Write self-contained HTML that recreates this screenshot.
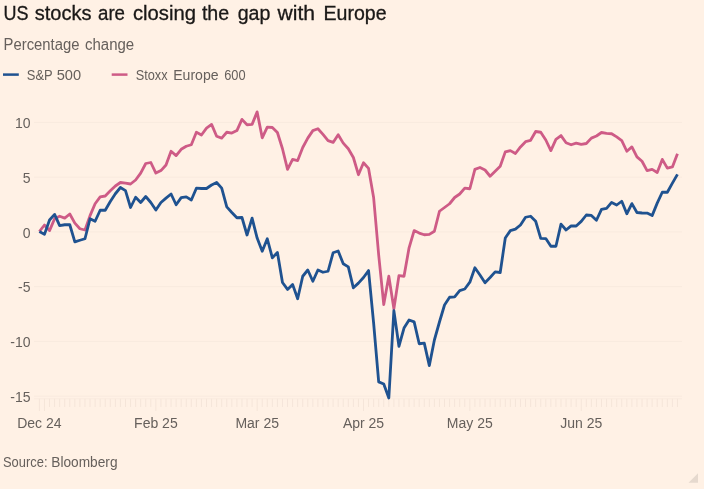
<!DOCTYPE html>
<html lang="en"><head><meta charset="utf-8"><title>US stocks are closing the gap with Europe</title>
<style>
html,body{margin:0;padding:0;background:#FFF1E5;}
body{width:704px;height:489px;overflow:hidden;position:relative;font-family:"Liberation Sans",Arial,sans-serif;}
svg{position:absolute;left:0;top:0;display:block}
svg text{font-family:"Liberation Sans",Arial,sans-serif;}
</style></head><body>
<svg width="704" height="489" viewBox="0 0 704 489">
<rect width="704" height="489" fill="#FFF1E5"/>
<text x="3.4" y="19.9" font-size="19.3" fill="#1a1817" stroke="#1a1817" stroke-width="0.3" textLength="25.0" lengthAdjust="spacingAndGlyphs">US</text> <text x="34.7" y="19.9" font-size="19.3" fill="#1a1817" stroke="#1a1817" stroke-width="0.3" textLength="56.8" lengthAdjust="spacingAndGlyphs">stocks</text> <text x="98" y="19.9" font-size="19.3" fill="#1a1817" stroke="#1a1817" stroke-width="0.3" textLength="27.0" lengthAdjust="spacingAndGlyphs">are</text> <text x="133" y="19.9" font-size="19.3" fill="#1a1817" stroke="#1a1817" stroke-width="0.3" textLength="63.0" lengthAdjust="spacingAndGlyphs">closing</text> <text x="201.9" y="19.9" font-size="19.3" fill="#1a1817" stroke="#1a1817" stroke-width="0.3" textLength="27.3" lengthAdjust="spacingAndGlyphs">the</text> <text x="237.7" y="19.9" font-size="19.3" fill="#1a1817" stroke="#1a1817" stroke-width="0.3" textLength="32.7" lengthAdjust="spacingAndGlyphs">gap</text> <text x="277.5" y="19.9" font-size="19.3" fill="#1a1817" stroke="#1a1817" stroke-width="0.3" textLength="37.5" lengthAdjust="spacingAndGlyphs">with</text> <text x="323.5" y="19.9" font-size="19.3" fill="#1a1817" stroke="#1a1817" stroke-width="0.3" textLength="63.1" lengthAdjust="spacingAndGlyphs">Europe</text>
<text x="3.6" y="49.5" font-size="15.6" fill="#66605C"  textLength="75.9" lengthAdjust="spacingAndGlyphs">Percentage</text> <text x="85" y="49.5" font-size="15.6" fill="#66605C"  textLength="49.2" lengthAdjust="spacingAndGlyphs">change</text>
<line x1="3" y1="74.6" x2="18.8" y2="74.6" stroke="#1F5290" stroke-width="2.5"/>
<text x="26.8" y="79.7" font-size="14" fill="#66605C"  textLength="25.9" lengthAdjust="spacingAndGlyphs">S&amp;P</text> <text x="56.7" y="79.7" font-size="14" fill="#66605C"  textLength="24.4" lengthAdjust="spacingAndGlyphs">500</text>
<line x1="111.7" y1="74.6" x2="127.5" y2="74.6" stroke="#CE5B86" stroke-width="2.5"/>
<text x="135.7" y="79.7" font-size="14" fill="#66605C"  textLength="31.9" lengthAdjust="spacingAndGlyphs">Stoxx</text> <text x="173.2" y="79.7" font-size="14" fill="#66605C"  textLength="45.4" lengthAdjust="spacingAndGlyphs">Europe</text> <text x="224.2" y="79.7" font-size="14" fill="#66605C"  textLength="21.4" lengthAdjust="spacingAndGlyphs">600</text>
<g stroke="#F9EADE" stroke-width="1" shape-rendering="auto"><line x1="34" y1="122.4" x2="682" y2="122.4"/><line x1="34" y1="177.15" x2="682" y2="177.15"/><line x1="34" y1="231.9" x2="682" y2="231.9"/><line x1="34" y1="286.65" x2="682" y2="286.65"/><line x1="34" y1="341.4" x2="682" y2="341.4"/><line x1="34" y1="396.15" x2="682" y2="396.15"/><line x1="34" y1="398.8" x2="682" y2="398.8"/></g>
<g stroke="#F5E5D9" stroke-width="1"><line x1="39.40" y1="398.8" x2="39.40" y2="411"/><line x1="44.46" y1="398.8" x2="44.46" y2="411"/><line x1="49.53" y1="398.8" x2="49.53" y2="407"/><line x1="54.59" y1="398.8" x2="54.59" y2="407"/><line x1="59.66" y1="398.8" x2="59.66" y2="407"/><line x1="64.72" y1="398.8" x2="64.72" y2="407"/><line x1="69.78" y1="398.8" x2="69.78" y2="407"/><line x1="74.85" y1="398.8" x2="74.85" y2="407"/><line x1="79.91" y1="398.8" x2="79.91" y2="407"/><line x1="84.98" y1="398.8" x2="84.98" y2="407"/><line x1="90.04" y1="398.8" x2="90.04" y2="407"/><line x1="95.10" y1="398.8" x2="95.10" y2="407"/><line x1="100.17" y1="398.8" x2="100.17" y2="407"/><line x1="105.23" y1="398.8" x2="105.23" y2="407"/><line x1="110.30" y1="398.8" x2="110.30" y2="407"/><line x1="115.36" y1="398.8" x2="115.36" y2="407"/><line x1="120.42" y1="398.8" x2="120.42" y2="407"/><line x1="125.49" y1="398.8" x2="125.49" y2="407"/><line x1="130.55" y1="398.8" x2="130.55" y2="407"/><line x1="135.62" y1="398.8" x2="135.62" y2="407"/><line x1="140.68" y1="398.8" x2="140.68" y2="407"/><line x1="145.74" y1="398.8" x2="145.74" y2="407"/><line x1="150.81" y1="398.8" x2="150.81" y2="407"/><line x1="155.87" y1="398.8" x2="155.87" y2="411"/><line x1="160.94" y1="398.8" x2="160.94" y2="407"/><line x1="166.00" y1="398.8" x2="166.00" y2="407"/><line x1="171.06" y1="398.8" x2="171.06" y2="407"/><line x1="176.13" y1="398.8" x2="176.13" y2="407"/><line x1="181.19" y1="398.8" x2="181.19" y2="407"/><line x1="186.26" y1="398.8" x2="186.26" y2="407"/><line x1="191.32" y1="398.8" x2="191.32" y2="407"/><line x1="196.38" y1="398.8" x2="196.38" y2="407"/><line x1="201.45" y1="398.8" x2="201.45" y2="407"/><line x1="206.51" y1="398.8" x2="206.51" y2="407"/><line x1="211.58" y1="398.8" x2="211.58" y2="407"/><line x1="216.64" y1="398.8" x2="216.64" y2="407"/><line x1="221.70" y1="398.8" x2="221.70" y2="407"/><line x1="226.77" y1="398.8" x2="226.77" y2="407"/><line x1="231.83" y1="398.8" x2="231.83" y2="407"/><line x1="236.90" y1="398.8" x2="236.90" y2="407"/><line x1="241.96" y1="398.8" x2="241.96" y2="407"/><line x1="247.02" y1="398.8" x2="247.02" y2="407"/><line x1="252.09" y1="398.8" x2="252.09" y2="407"/><line x1="257.15" y1="398.8" x2="257.15" y2="411"/><line x1="262.22" y1="398.8" x2="262.22" y2="407"/><line x1="267.28" y1="398.8" x2="267.28" y2="407"/><line x1="272.34" y1="398.8" x2="272.34" y2="407"/><line x1="277.41" y1="398.8" x2="277.41" y2="407"/><line x1="282.47" y1="398.8" x2="282.47" y2="407"/><line x1="287.54" y1="398.8" x2="287.54" y2="407"/><line x1="292.60" y1="398.8" x2="292.60" y2="407"/><line x1="297.66" y1="398.8" x2="297.66" y2="407"/><line x1="302.73" y1="398.8" x2="302.73" y2="407"/><line x1="307.79" y1="398.8" x2="307.79" y2="407"/><line x1="312.86" y1="398.8" x2="312.86" y2="407"/><line x1="317.92" y1="398.8" x2="317.92" y2="407"/><line x1="322.98" y1="398.8" x2="322.98" y2="407"/><line x1="328.05" y1="398.8" x2="328.05" y2="407"/><line x1="333.11" y1="398.8" x2="333.11" y2="407"/><line x1="338.18" y1="398.8" x2="338.18" y2="407"/><line x1="343.24" y1="398.8" x2="343.24" y2="407"/><line x1="348.30" y1="398.8" x2="348.30" y2="407"/><line x1="353.37" y1="398.8" x2="353.37" y2="407"/><line x1="358.43" y1="398.8" x2="358.43" y2="407"/><line x1="363.50" y1="398.8" x2="363.50" y2="411"/><line x1="368.56" y1="398.8" x2="368.56" y2="407"/><line x1="373.62" y1="398.8" x2="373.62" y2="407"/><line x1="378.69" y1="398.8" x2="378.69" y2="407"/><line x1="383.75" y1="398.8" x2="383.75" y2="407"/><line x1="388.82" y1="398.8" x2="388.82" y2="407"/><line x1="393.88" y1="398.8" x2="393.88" y2="407"/><line x1="398.94" y1="398.8" x2="398.94" y2="407"/><line x1="404.01" y1="398.8" x2="404.01" y2="407"/><line x1="409.07" y1="398.8" x2="409.07" y2="407"/><line x1="414.14" y1="398.8" x2="414.14" y2="407"/><line x1="419.20" y1="398.8" x2="419.20" y2="407"/><line x1="424.26" y1="398.8" x2="424.26" y2="407"/><line x1="429.33" y1="398.8" x2="429.33" y2="407"/><line x1="434.39" y1="398.8" x2="434.39" y2="407"/><line x1="439.46" y1="398.8" x2="439.46" y2="407"/><line x1="444.52" y1="398.8" x2="444.52" y2="407"/><line x1="449.58" y1="398.8" x2="449.58" y2="407"/><line x1="454.65" y1="398.8" x2="454.65" y2="407"/><line x1="459.71" y1="398.8" x2="459.71" y2="407"/><line x1="464.78" y1="398.8" x2="464.78" y2="407"/><line x1="469.84" y1="398.8" x2="469.84" y2="411"/><line x1="474.90" y1="398.8" x2="474.90" y2="407"/><line x1="479.97" y1="398.8" x2="479.97" y2="407"/><line x1="485.03" y1="398.8" x2="485.03" y2="407"/><line x1="490.10" y1="398.8" x2="490.10" y2="407"/><line x1="495.16" y1="398.8" x2="495.16" y2="407"/><line x1="500.22" y1="398.8" x2="500.22" y2="407"/><line x1="505.29" y1="398.8" x2="505.29" y2="407"/><line x1="510.35" y1="398.8" x2="510.35" y2="407"/><line x1="515.42" y1="398.8" x2="515.42" y2="407"/><line x1="520.48" y1="398.8" x2="520.48" y2="407"/><line x1="525.54" y1="398.8" x2="525.54" y2="407"/><line x1="530.61" y1="398.8" x2="530.61" y2="407"/><line x1="535.67" y1="398.8" x2="535.67" y2="407"/><line x1="540.74" y1="398.8" x2="540.74" y2="407"/><line x1="545.80" y1="398.8" x2="545.80" y2="407"/><line x1="550.86" y1="398.8" x2="550.86" y2="407"/><line x1="555.93" y1="398.8" x2="555.93" y2="407"/><line x1="560.99" y1="398.8" x2="560.99" y2="407"/><line x1="566.06" y1="398.8" x2="566.06" y2="407"/><line x1="571.12" y1="398.8" x2="571.12" y2="407"/><line x1="576.18" y1="398.8" x2="576.18" y2="407"/><line x1="581.25" y1="398.8" x2="581.25" y2="411"/><line x1="586.31" y1="398.8" x2="586.31" y2="407"/><line x1="591.38" y1="398.8" x2="591.38" y2="407"/><line x1="596.44" y1="398.8" x2="596.44" y2="407"/><line x1="601.50" y1="398.8" x2="601.50" y2="407"/><line x1="606.57" y1="398.8" x2="606.57" y2="407"/><line x1="611.63" y1="398.8" x2="611.63" y2="407"/><line x1="616.70" y1="398.8" x2="616.70" y2="407"/><line x1="621.76" y1="398.8" x2="621.76" y2="407"/><line x1="626.82" y1="398.8" x2="626.82" y2="407"/><line x1="631.89" y1="398.8" x2="631.89" y2="407"/><line x1="636.95" y1="398.8" x2="636.95" y2="407"/><line x1="642.02" y1="398.8" x2="642.02" y2="407"/><line x1="647.08" y1="398.8" x2="647.08" y2="407"/><line x1="652.14" y1="398.8" x2="652.14" y2="407"/><line x1="657.21" y1="398.8" x2="657.21" y2="407"/><line x1="662.27" y1="398.8" x2="662.27" y2="407"/><line x1="667.34" y1="398.8" x2="667.34" y2="407"/><line x1="672.40" y1="398.8" x2="672.40" y2="407"/><line x1="677.46" y1="398.8" x2="677.46" y2="407"/></g>
<g font-size="14" fill="#66605C"><text x="30.5" y="128.0" text-anchor="end">10</text><text x="30.5" y="182.8" text-anchor="end">5</text><text x="30.5" y="237.5" text-anchor="end">0</text><text x="30.5" y="292.2" text-anchor="end">-5</text><text x="30.5" y="347.0" text-anchor="end">-10</text><text x="30.5" y="401.8" text-anchor="end">-15</text><text x="39.4" y="428.3" text-anchor="middle">Dec 24</text><text x="155.9" y="428.3" text-anchor="middle">Feb 25</text><text x="257.2" y="428.3" text-anchor="middle">Mar 25</text><text x="363.5" y="428.3" text-anchor="middle">Apr 25</text><text x="469.8" y="428.3" text-anchor="middle">May 25</text><text x="581.2" y="428.3" text-anchor="middle">Jun 25</text></g>
<path d="M39.40,231.50 L44.46,225.00 L49.53,230.60 L54.59,218.75 L59.66,216.25 L64.72,218.10 L69.78,214.00 L74.85,223.10 L79.91,228.75 L84.98,230.00 L90.04,215.60 L95.10,203.75 L100.17,196.90 L105.23,196.00 L110.30,190.80 L115.36,186.00 L120.42,182.50 L125.49,183.10 L130.55,184.00 L135.62,180.00 L140.68,173.10 L145.74,163.50 L150.81,162.50 L155.87,173.10 L160.94,170.60 L166.00,165.00 L171.06,151.25 L176.13,155.60 L181.19,149.30 L186.26,146.25 L191.32,144.75 L196.38,132.25 L201.45,135.00 L206.51,128.10 L211.58,124.40 L216.64,136.25 L221.70,138.10 L226.77,132.25 L231.83,133.10 L236.90,130.60 L241.96,119.40 L247.02,124.75 L252.09,124.40 L257.15,111.90 L262.22,137.80 L267.28,127.10 L272.34,127.50 L277.41,132.50 L282.47,148.75 L287.54,169.30 L292.60,159.40 L297.66,160.60 L302.73,147.50 L307.79,138.10 L312.86,130.60 L317.92,128.75 L322.98,134.40 L328.05,140.60 L333.11,142.40 L338.18,134.70 L343.24,143.10 L348.30,148.75 L353.37,157.50 L358.43,174.70 L363.50,162.80 L368.56,168.40 L373.62,197.50 L378.69,255.00 L383.75,304.50 L388.82,276.25 L393.88,308.75 L398.94,275.60 L404.01,276.25 L409.07,247.80 L414.14,230.60 L419.20,233.10 L424.26,234.75 L429.33,234.40 L434.39,231.25 L439.46,211.25 L444.52,207.50 L449.58,203.75 L454.65,197.50 L459.71,194.00 L464.78,188.10 L469.84,188.75 L474.90,169.40 L479.97,167.50 L485.03,170.00 L490.10,176.25 L495.16,171.25 L500.22,166.25 L505.29,151.90 L510.35,150.60 L515.42,153.50 L520.48,146.90 L525.54,141.70 L530.61,140.30 L535.67,131.50 L540.74,132.25 L545.80,140.00 L550.86,150.60 L555.93,139.40 L560.99,135.60 L566.06,142.75 L571.12,144.75 L576.18,143.10 L581.25,144.40 L586.31,143.50 L591.38,138.10 L596.44,136.00 L601.50,132.50 L606.57,133.30 L611.63,133.75 L616.70,136.90 L621.76,140.60 L626.82,151.25 L631.89,146.90 L636.95,156.90 L642.02,161.25 L647.08,170.60 L652.14,169.40 L657.21,172.50 L662.27,159.40 L667.34,168.10 L672.40,166.90 L677.46,153.75" fill="none" stroke="#CE5B86" stroke-width="2.8" stroke-linejoin="round" stroke-linecap="butt"/>
<path d="M39.40,231.50 L44.46,234.40 L49.53,220.00 L54.59,214.40 L59.66,225.60 L64.72,224.75 L69.78,224.75 L74.85,241.90 L79.91,240.25 L84.98,238.75 L90.04,218.75 L95.10,221.25 L100.17,210.25 L105.23,210.25 L110.30,201.50 L115.36,193.75 L120.42,187.50 L125.49,190.60 L130.55,207.50 L135.62,197.25 L140.68,202.50 L145.74,196.50 L150.81,202.50 L155.87,210.00 L160.94,202.50 L166.00,198.10 L171.06,194.00 L176.13,204.75 L181.19,197.60 L186.26,196.90 L191.32,200.00 L196.38,188.20 L201.45,188.50 L206.51,188.50 L211.58,185.00 L216.64,182.50 L221.70,188.10 L226.77,206.90 L231.83,212.50 L236.90,217.75 L241.96,217.50 L247.02,235.00 L252.09,218.10 L257.15,238.10 L262.22,251.25 L267.28,238.75 L272.34,257.80 L277.41,252.40 L282.47,282.50 L287.54,289.40 L292.60,284.40 L297.66,298.75 L302.73,276.25 L307.79,270.00 L312.86,281.25 L317.92,270.00 L322.98,272.25 L328.05,271.25 L333.11,252.75 L338.18,251.00 L343.24,263.75 L348.30,266.90 L353.37,287.80 L358.43,283.10 L363.50,277.50 L368.56,270.60 L373.62,323.00 L378.69,381.90 L383.75,384.00 L388.82,398.00 L393.88,310.60 L398.94,346.25 L404.01,328.10 L409.07,320.00 L414.14,321.90 L419.20,343.75 L424.26,343.10 L429.33,365.60 L434.39,340.00 L439.46,322.00 L444.52,305.00 L449.58,297.25 L454.65,296.90 L459.71,290.60 L464.78,289.00 L469.84,282.20 L474.90,267.75 L479.97,275.00 L485.03,282.75 L490.10,277.50 L495.16,271.90 L500.22,272.50 L505.29,238.00 L510.35,230.60 L515.42,229.20 L520.48,225.00 L525.54,217.25 L530.61,216.25 L535.67,221.25 L540.74,238.30 L545.80,238.60 L550.86,246.25 L555.93,246.25 L560.99,224.10 L566.06,230.00 L571.12,225.80 L576.18,226.00 L581.25,221.40 L586.31,215.00 L591.38,215.40 L596.44,220.25 L601.50,209.40 L606.57,208.30 L611.63,202.40 L616.70,205.00 L621.76,201.25 L626.82,213.75 L631.89,203.60 L636.95,212.50 L642.02,213.00 L647.08,213.10 L652.14,215.60 L657.21,203.10 L662.27,192.25 L667.34,192.25 L672.40,183.10 L677.46,174.40" fill="none" stroke="#1F5290" stroke-width="2.8" stroke-linejoin="round" stroke-linecap="butt"/>
<text x="3" y="466.7" font-size="14" fill="#66605C"  textLength="44.5" lengthAdjust="spacingAndGlyphs">Source:</text> <text x="51.3" y="466.7" font-size="14" fill="#66605C"  textLength="66.2" lengthAdjust="spacingAndGlyphs">Bloomberg</text>
<polygon points="688.5,482.8 698,482.8 698,473.3" fill="#E6D9CE"/>
</svg>
</body></html>
